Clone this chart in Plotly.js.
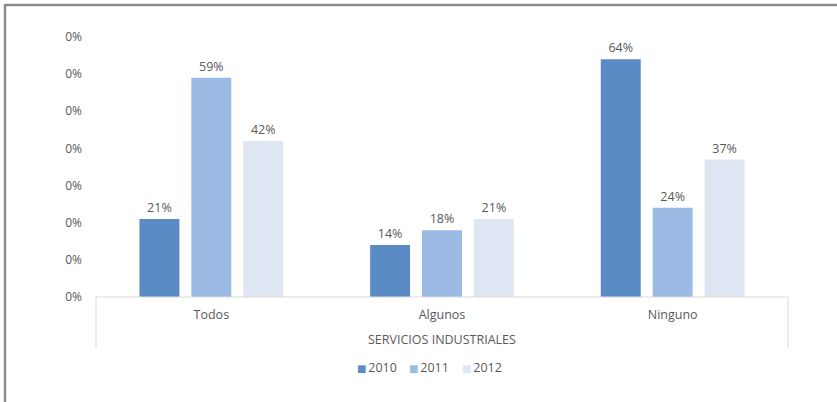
<!DOCTYPE html>
<html><head><meta charset="utf-8">
<script src="https://cdn.plot.ly/plotly-3.0.1.min.js"></script>
<style>html,body{margin:0;padding:0;background:#fff}#c{width:837px;height:402px}</style>
</head><body><div id="c"></div>
<script>
const categories = ["Todos", "Algunos", "Ninguno"];
const groupTitle = "SERVICIOS INDUSTRIALES";
const seriesNames = ["2010", "2011", "2012"];
const values2010 = [0.21, 0.14, 0.64];
const values2011 = [0.59, 0.18, 0.24];
const values2012 = [0.42, 0.21, 0.37];
const yTickVals = [0, 0.1, 0.2, 0.3, 0.4, 0.5, 0.6, 0.7];
const yTickText = ["0%", "0%", "0%", "0%", "0%", "0%", "0%", "0%"];
const colors = ["#5b8bc5", "#9bbbe5", "#dfe6f3"];

const W = 837, H = 402, L = 96, R = 49, T = 37, B = 105;
const pw = W - L - R, ph = H - T - B;
const px = v => (v - L) / pw;
const py = v => (H - B - v) / ph;
const FONT = "Open Sans, Noto Sans, sans-serif";
const GREY = "#595959";

const allValues = [values2010, values2011, values2012];
const traces = allValues.map((vals, i) => ({
  type: "bar",
  name: seriesNames[i],
  x: categories,
  y: vals,
  marker: {color: colors[i]},
  text: vals.map(v => Math.round(v * 100) + "%"),
  textposition: "outside",
  textfont: {color: GREY, size: 12.5},
  cliponaxis: false,
  hoverinfo: "none",
  showlegend: false
}));

const legendStarts = [355, 407, 460];
const legendAnns = seriesNames.map((n, i) => ({
  xref: "paper", yref: "paper", x: px(legendStarts[i]), xanchor: "left",
  y: py(367), yanchor: "middle", showarrow: false,
  text: "<span style='color:" + colors[i] + ";font-size:10px;font-family:DejaVu Sans'>■</span><span style='font-size:7px'>&#160;</span>" + n,
  font: {size: 12.5, color: GREY, family: FONT}
}));

const lineStyle = {color: "#d9d9d9", width: 1};
const layout = {
  width: W, height: H,
  margin: {l: L, r: R, t: T, b: B},
  paper_bgcolor: "#fff", plot_bgcolor: "#fff",
  font: {family: FONT, color: GREY, size: 12},
  barmode: "group",
  bargap: 0.325,
  bargroupgap: 0.23,
  showlegend: false,
  xaxis: {type: "category", showgrid: false, zeroline: false, showline: false,
          ticks: "", ticklabelstandoff: 8, tickfont: {size: 12.5, color: GREY}, fixedrange: true},
  yaxis: {range: [0, 0.7], tickvals: yTickVals, ticktext: yTickText, showgrid: false,
          zeroline: false, showline: false, ticks: "", ticklabelstandoff: 13,
          tickfont: {size: 12, color: GREY}, fixedrange: true},
  annotations: [{xref: "paper", yref: "paper", x: 0.5, y: py(339), yanchor: "middle",
                 text: groupTitle, showarrow: false, font: {size: 12.5, color: GREY}}].concat(legendAnns),
  shapes: [
    {type: "line", xref: "paper", yref: "paper", x0: 0, x1: 1, y0: 0, y1: 0, line: lineStyle},
    {type: "line", xref: "paper", yref: "paper", x0: 0, x1: 0, y0: 0, y1: py(348), line: lineStyle},
    {type: "line", xref: "paper", yref: "paper", x0: 1, x1: 1, y0: 0, y1: py(348), line: lineStyle},
    {type: "line", xref: "paper", yref: "paper", x0: px(5), x1: px(W + 5), y0: py(5), y1: py(5), line: {color: "#8c8c8c", width: 2.5}},
    {type: "line", xref: "paper", yref: "paper", x0: px(5), x1: px(5), y0: py(4), y1: py(H + 5), line: {color: "#8c8c8c", width: 2.5}}
  ]
};
Plotly.newPlot("c", traces, layout, {displayModeBar: false, staticPlot: true});
</script></body></html>
